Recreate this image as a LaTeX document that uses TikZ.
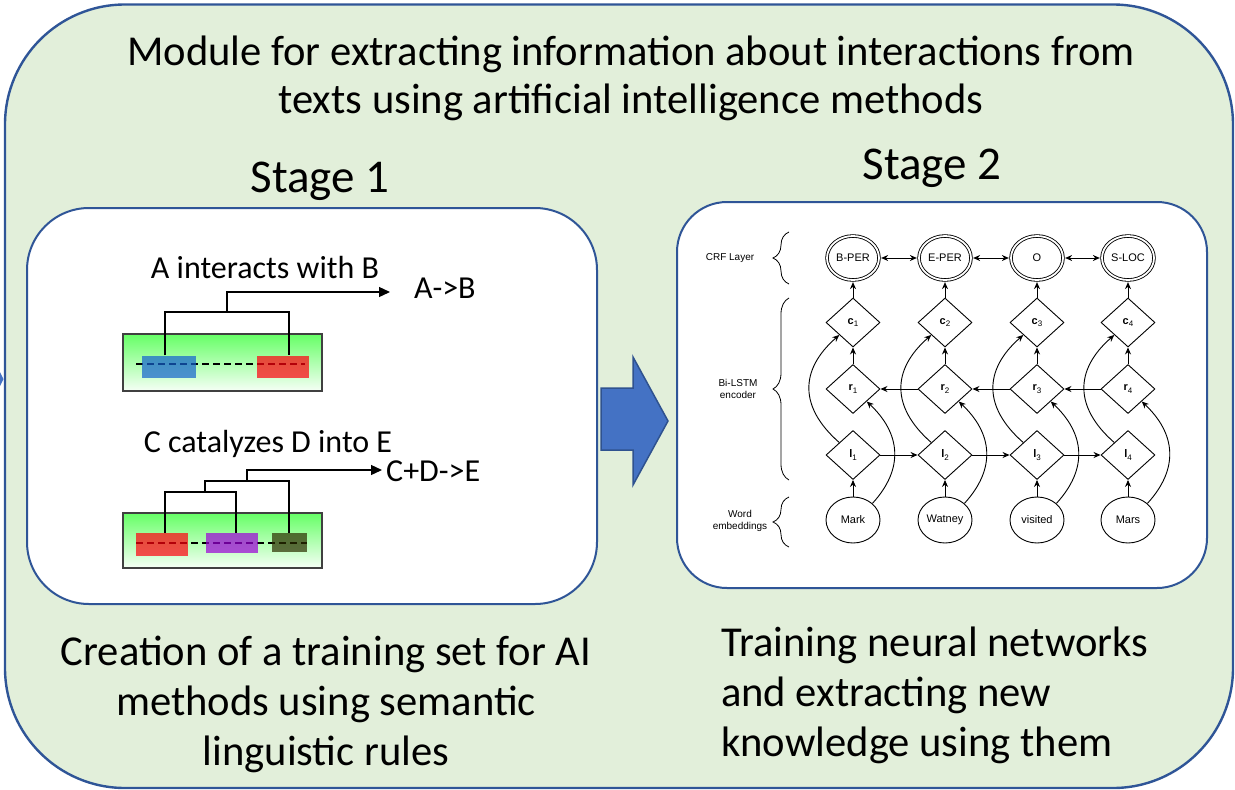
\documentclass[tikz,border=0pt]{standalone}
\usepackage{fontspec}
\setmainfont{Carlito}
\newfontfamily\helv{Liberation Sans}
\usetikzlibrary{shapes.geometric,arrows.meta,decorations.pathreplacing,calc}

\definecolor{panelgreen}{HTML}{E2EFDA}
\definecolor{frameblue}{HTML}{2F5597}
\definecolor{arrowblue}{HTML}{4472C4}
\definecolor{arrowedge}{HTML}{2F528F}
\definecolor{sentgreen}{HTML}{66FF66}
% tag colours, pre-darkened so that at 70% opacity they show the intended tone
\definecolor{tagblue}{RGB}{20,97,206}
\definecolor{tagred}{RGB}{255,0,14}
\definecolor{tagpurple}{RGB}{156,0,216}
\definecolor{tagolive}{RGB}{44,46,0}

% bold symbol with a sans subscript, for the LSTM cells
\newcommand\cellname[2]{\textbf{#1}\raisebox{-2.5pt}{\fontsize{8}{9}\selectfont #2}}

\begin{document}
\begin{tikzpicture}[x=1pt, y=-1pt,
  titletext/.style={font=\fontsize{42.6}{48}\selectfont, inner sep=0pt, anchor=base},
  stagehead/.style={font=\fontsize{47}{56}\selectfont, inner sep=0pt, anchor=base},
  rulefont/.style={font=\fontsize{32}{38}\selectfont, inner sep=0pt, anchor=base},
  sentbox/.style={draw=black!75, line width=1.2pt, top color=sentgreen, bottom color=sentgreen!6,
                  minimum width=199pt, minimum height=55pt, inner sep=0pt},
  tagbox/.style={minimum height=22pt, inner sep=0pt, fill opacity=0.7},
  tie/.style={draw=black, line width=1.3pt},
  link/.style={tie, -{Triangle[length=11pt,width=10pt]}},
  token/.style={draw=black, dash pattern=on 7pt off 4pt, line width=1.6pt},
  nn/.style={line width=0.9pt, -{Stealth[length=7pt,width=6pt]}},
  crf/.style={ellipse, draw, double, double distance=1.8pt, line width=0.85pt, minimum width=52pt,
              minimum height=44pt, inner sep=0pt, font=\helv\fontsize{11}{13}\selectfont},
  cell/.style={diamond, draw, line width=0.9pt, minimum width=54pt, minimum height=49pt,
               inner sep=0pt, font=\helv\fontsize{11}{13}\selectfont},
  embed/.style={ellipse, draw, line width=0.9pt, minimum width=54pt, minimum height=46pt,
                inner sep=0pt, font=\helv\fontsize{11}{13}\selectfont},
  layerlabel/.style={font=\helv\fontsize{10}{12.5}\selectfont, align=center, inner sep=0pt},
  layerbrace/.style={decorate, decoration={brace, amplitude=16pt}, line width=0.8pt},
]
\useasboundingbox (0,0) rectangle (1235,790);

% outer module panel
\draw[fill=panelgreen, draw=frameblue, line width=2.4pt, rounded corners=120pt]
  (5,4.5) rectangle (1233,788);
\fill[arrowblue] (0,372) -- (3.5,379) -- (0,386) -- cycle;

% stage panels
\draw[fill=white, draw=frameblue, line width=2pt, rounded corners=62pt] (27,208) rectangle (597,604);
\draw[fill=white, draw=frameblue, line width=2pt, rounded corners=50pt] (677,202) rectangle (1207,588);

% block arrow between the stages
\draw[fill=arrowblue, draw=arrowedge, line width=1.5pt, line join=miter]
  (601,388) -- (633,388) -- (633,357) -- (668,421) -- (633,485) -- (633,450) -- (601,450) -- cycle;

% headings
\node[titletext] (title1) at (631,65) {Module for extracting information about interactions from};
\node[titletext] (title2) at (631,113) {texts using artificial intelligence methods};
\node[stagehead] (stage1) at (320,192) {Stage 1};
\node[stagehead] (stage2) at (932,179) {Stage 2};

% captions under the stages
\node[titletext] (cap1a) at (326,665) {Creation of a training set for AI};
\node[titletext] (cap1b) at (326,715) {methods using semantic};
\node[titletext] (cap1c) at (326,765) {linguistic rules};
\node[titletext, anchor=base west] (cap2a) at (721,656) {Training neural networks};
\node[titletext, anchor=base west] (cap2b) at (721,706) {and extracting new};
\node[titletext, anchor=base west] (cap2c) at (721,756) {knowledge using them};

% ---------- stage 1: rule-based annotation ----------
\node[rulefont] (sentA) at (265,278) {A interacts with B};
\node[rulefont, anchor=base west] (resA) at (414,298) {A->B};
\node[sentbox, minimum height=57pt] (boxA) at (222.5,362.5) {};
\draw[token] (136,364) -- (305,364);
\node[tagbox, fill=tagblue, minimum width=54pt] (tagA) at (169,366.5) {};
\node[tagbox, fill=tagred, minimum width=52pt] (tagB) at (283,366.5) {};
\coordinate (tipA) at (390,292);
\draw[tie] (165,0 |- tagA.north) |- (289,312) -- (289,0 |- tagB.north);
\draw[link] (227,312) |- (tipA);

\node[rulefont] (sentC) at (268,452) {C catalyzes D into E};
\node[rulefont, anchor=base west] (resC) at (386,481) {C+D->E};
\node[sentbox] (boxC) at (222.5,540.5) {};
\draw[token] (136,543) -- (307,543);
\node[tagbox, fill=tagred, minimum width=52pt, minimum height=23pt] (tagC) at (162,544.5) {};
\node[tagbox, fill=tagpurple, minimum width=52pt, minimum height=20pt] (tagD) at (232,543) {};
\node[tagbox, fill=tagolive, minimum width=35pt, minimum height=19pt] (tagE) at (289.5,542.5) {};
\coordinate (tipC) at (382,470);
\draw[tie] (165,0 |- tagC.north) |- (236,492) -- (236,0 |- tagD.north);
\draw[tie] (205,492) |- (289,481) -- (289,0 |- tagE.north);
\draw[link] (247,481) |- (tipC);

% ---------- stage 2: BiLSTM-CRF tagger ----------
\node[layerlabel] (lblcrf) at (730,258) {CRF Layer};
\node[layerlabel] (lbllstm) at (738,389) {Bi-LSTM\\encoder};
\node[layerlabel] (lblemb) at (740,521) {Word\\embeddings};
\draw[layerbrace] (789,284) -- (789,232);
\draw[layerbrace] (789,480) -- (789,298);
\draw[layerbrace] (789,547) -- (789,497);

\foreach \i/\px/\lab/\word in {1/853/B-PER/Mark, 2/945/E-PER/Watney, 3/1037/O/visited, 4/1128/S-LOC/Mars}{
  \node[crf] (t\i) at (\px,258) {\lab};
  \node[cell] (c\i) at (\px,322.5) {\cellname{c}{\i}};
  \node[cell] (r\i) at (\px,389) {\cellname{r}{\i}};
  \node[cell] (l\i) at (\px,455) {\cellname{l}{\i}};
  \node[embed] (w\i) at (\px,520) {\word};
}

\foreach \i in {1,...,4}{
  \draw[nn] (w\i.north) -- (l\i.south);
  \draw[nn] (r\i.north) -- (c\i.south);
  \draw[nn, shorten >=1.7pt] (c\i.north) -- (t\i.south);
  \draw[nn] (l\i.north west) .. controls ($(l\i.north west)+(-40,-35)$)
        and ($(c\i.south west)+(-40,35)$) .. (c\i.south west);
  \draw[nn] (w\i.north east) .. controls ($(w\i.north east)+(32,-35)$)
        and ($(r\i.south east)+(34,32)$) .. (r\i.south east);
}

\foreach \i/\j in {1/2, 2/3, 3/4}{
  \draw[nn] (l\i.east) -- (l\j.west);
  \draw[nn] (r\j.west) -- (r\i.east);
  \draw[line width=0.9pt, {Stealth[length=7pt,width=6pt]}-{Stealth[length=7pt,width=6pt]},
        shorten <=1.7pt, shorten >=1.7pt] (t\i.east) -- (t\j.west);
}
\end{tikzpicture}
\end{document}
